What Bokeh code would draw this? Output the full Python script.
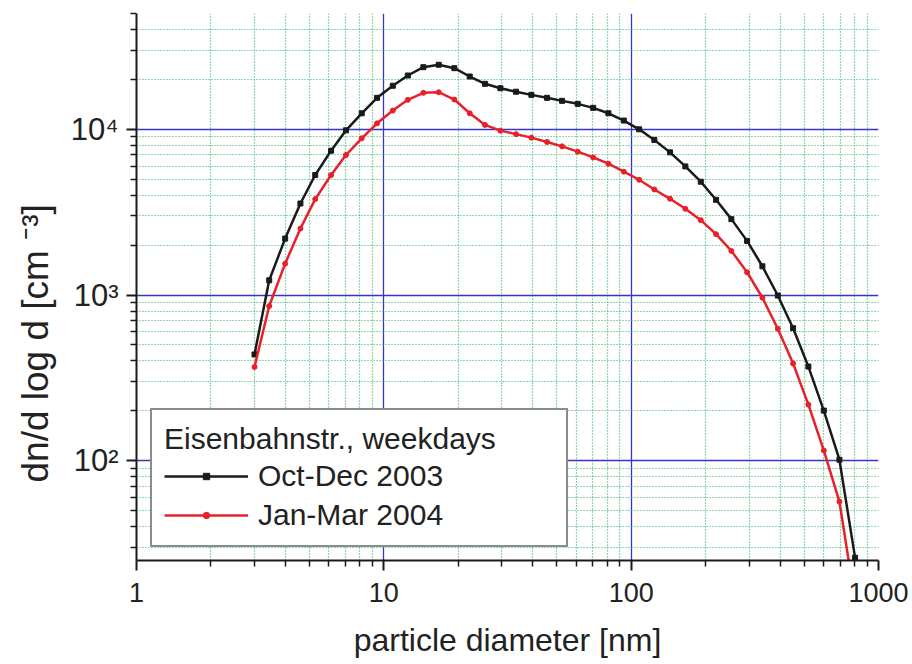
from bokeh.plotting import figure
from bokeh.models import Range1d, FixedTicker, Legend, LegendItem, Title
from bokeh.embed import file_html
from bokeh.resources import INLINE

# ---- data ----
diameter_nm = [3.0, 3.44, 3.99, 4.60, 5.28, 6.12, 7.03, 8.14, 9.39, 10.87,
               12.50, 14.45, 16.67, 19.28, 22.25, 25.66, 29.6, 34.25, 39.5, 45.7,
               52.56, 60.8, 70.2, 80.9, 93.4, 107.7, 124.1, 143.6, 165.6, 191.2,
               220.4, 254.2, 294.2, 339.3, 391.6, 451.6, 520.6, 601, 695, 804]
oct_dec_2003 = [438, 1227, 2191, 3567, 5299, 7431, 9861, 12497, 15488, 18310,
                21125, 23714, 24526, 23390, 20830, 18820, 17700, 16860, 16140, 15490,
                14850, 14250, 13475, 12500, 11290, 10000, 8630, 7260, 5974, 4828,
                3755, 2871, 2122, 1492, 993, 631, 370, 200.7, 101.4, 26]
jan_mar_2004 = [368, 858, 1547, 2519, 3792, 5299, 7000, 8822, 10870, 12976,
                15063, 16606, 16744, 15125, 12497, 10632, 9820, 9354, 8910, 8388,
                7893, 7331, 6770, 6201, 5548, 4963, 4335, 3808, 3314, 2831,
                2329, 1846, 1372, 963, 626, 386, 218, 115.4, 56.7, 14.2]

series_names = ["Oct-Dec 2003", "Jan-Mar 2004"]
legend_title = "Eisenbahnstr., weekdays"
x_label = "particle diameter [nm]"
y_label = "dn/d log d [cm \u207b\u00b3]"

x_major = [1, 10, 100, 1000]
x_major_labels = ["1", "10", "100", "1000"]
x_minor = [2, 3, 4, 5, 6, 7, 8, 9, 20, 30, 40, 50, 60, 70, 80, 90,
           200, 300, 400, 500, 600, 700, 800, 900]
y_major = [100, 1000, 10000]
y_major_labels = ["10\u00b2", "10\u00b3", "10\u2074"]
y_minor = [30, 40, 50, 60, 70, 80, 90, 200, 300, 400, 500, 600, 700, 800, 900,
           2000, 3000, 4000, 5000, 6000, 7000, 8000, 9000, 20000, 30000, 40000, 50000]

FONT = "Liberation Sans"
BLACK = "#1a1a1a"
RED = "#e8202a"
TEXT = "#222222"

p = figure(frame_width=742, frame_height=547,
           x_axis_type="log", y_axis_type="log",
           x_range=Range1d(1, 1000), y_range=Range1d(25, 50000),
           output_backend="svg", toolbar_location=None,
           min_border_left=136, min_border_right=30,
           min_border_top=13, min_border_bottom=104)
p.outline_line_color = None
p.background_fill_color = "white"

# grids
for g in (p.xgrid, p.ygrid):
    g.grid_line_color = "#3535c8"
    g.grid_line_width = 1.3
    g.minor_grid_line_color = "#22b062"
    g.minor_grid_line_width = 1.2
    g.minor_grid_line_dash = "1 2"

# axes
p.xaxis.ticker = FixedTicker(ticks=x_major, minor_ticks=x_minor)
p.yaxis.ticker = FixedTicker(ticks=y_major, minor_ticks=y_minor)
p.xaxis.major_label_overrides = {v: s for v, s in zip(x_major, x_major_labels)}
p.yaxis.major_label_overrides = {v: s for v, s in zip(y_major, y_major_labels)}
for ax in (p.xaxis[0], p.yaxis[0]):
    ax.axis_line_color = BLACK
    ax.axis_line_width = 2
    ax.major_tick_line_color = BLACK
    ax.major_tick_line_width = 2
    ax.minor_tick_line_color = BLACK
    ax.minor_tick_line_width = 1.5
    ax.major_tick_in = 0
    ax.major_tick_out = 10
    ax.minor_tick_in = 0
    ax.minor_tick_out = 6
    ax.major_label_text_font = FONT
    ax.major_label_text_color = TEXT
    ax.axis_label_text_font = FONT
    ax.axis_label_text_font_style = "normal"
    ax.axis_label_text_color = TEXT

p.xaxis.major_label_text_font_size = "27px"
p.xaxis.major_label_standoff = 12
p.xaxis.axis_label = x_label
p.xaxis.axis_label_text_font_size = "32px"
p.xaxis.axis_label_standoff = 17

p.yaxis.major_label_text_font_size = "31px"
p.yaxis.major_label_standoff = 8

# y-axis title (shifted downward like the reference)
p.add_layout(Title(text=y_label, align="left", offset=78, standoff=23,
                   text_font=FONT, text_font_size="37px",
                   text_font_style="normal", text_color=TEXT), "left")

# series
l1 = p.line(diameter_nm, oct_dec_2003, line_color=BLACK, line_width=2.5)
s1 = p.scatter(diameter_nm, oct_dec_2003, marker="square", size=5,
               fill_color=BLACK, line_color=BLACK)
l2 = p.line(diameter_nm, jan_mar_2004, line_color=RED, line_width=2.5)
s2 = p.scatter(diameter_nm, jan_mar_2004, marker="circle", size=5,
               fill_color=RED, line_color=RED)

legend = Legend(items=[LegendItem(label=series_names[0], renderers=[l1, s1]),
                       LegendItem(label=series_names[1], renderers=[l2, s2])],
                location=(14, 13), title=legend_title,
                title_text_font=FONT, title_text_font_size="30px",
                title_text_font_style="normal", title_text_color=TEXT,
                title_standoff=2,
                label_text_font=FONT, label_text_font_size="30px",
                label_text_color=TEXT,
                glyph_width=84, glyph_height=16, label_height=36,
                label_width=296, label_standoff=10,
                padding=12, spacing=3, margin=0,
                border_line_color=BLACK, border_line_width=2,
                background_fill_color="white", background_fill_alpha=1.0)
p.add_layout(legend)

open("out.html", "w").write(file_html(p, INLINE))
